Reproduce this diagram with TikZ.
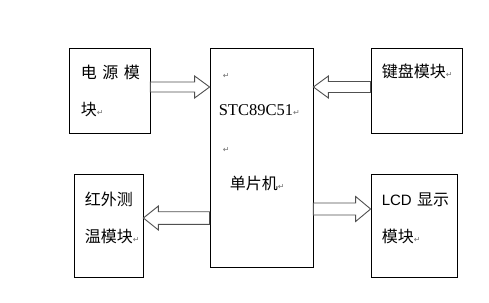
\documentclass[tikz,border=0pt]{standalone}
\usepackage{fontspec}
\setmainfont{Liberation Serif}
\newfontfamily\cjkfont{Noto Sans CJK SC}
\newfontfamily\lcdfont{Liberation Sans}
\newfontfamily\markfont{DejaVu Sans}
\usetikzlibrary{calc}
\definecolor{mkgray}{HTML}{707070}
\definecolor{arrgray}{HTML}{505050}
\newcommand{\pmark}{{\markfont\fontsize{8}{8}\selectfont\textcolor{mkgray}{↵}}}
% hollow block arrow: tail anchor, tip anchor, axis y, shaft half, head half
\newcommand{\fatarrow}[5]{%
  \path (#1|-0,#3) coordinate (fa-s) (#2|-0,#3) coordinate (fa-e)
        ($(fa-e)!15pt!(fa-s)$) coordinate (fa-h);
  \draw[fatline] ($(fa-s)+(0,#4)$) -- ($(fa-h)+(0,#4)$) -- ($(fa-h)+(0,#5)$)
     -- (fa-e) -- ($(fa-h)+(0,-#5)$) -- ($(fa-h)+(0,-#4)$)
     -- ($(fa-s)+(0,-#4)$) -- cycle;}

\begin{document}
\begin{tikzpicture}[x=1pt,y=-1pt,
  box/.style={rectangle, draw=black, line width=0.8pt, inner sep=0pt},
  lbl/.style={inner sep=0pt, anchor=base west, align=left, text width=90pt,
              font=\cjkfont\fontsize{16}{37}\selectfont},
  fatline/.style={draw=arrgray, line width=0.9pt, line join=miter, fill=white}]
\useasboundingbox (0,0) rectangle (489,302);

\node[box, minimum width=81pt, minimum height=85pt]  (pwr) at (109.5,90.5) {};
\node[box, minimum width=103pt, minimum height=219pt] (mcu) at (261.5,157.5) {};
\node[box, minimum width=91pt, minimum height=85pt]  (key) at (416.5,90.5) {};
\node[box, minimum width=69pt, minimum height=103pt] (ir)  at (108.5,225.5) {};
\node[box, minimum width=86pt, minimum height=103pt] (lcd) at (414,225.5) {};

\node[lbl] (pwrtxt) at ($(pwr.north west)+(12,31)$)
  {电\hspace{5.5pt}源\hspace{5.5pt}模\\块\pmark};
\node[lbl] (mcutxt) at ($(mcu.north west)+(9,31)$)
  {\hspace*{4pt}\pmark\\
   {\rmfamily\fontsize{16.5}{37}\selectfont STC89C51}\pmark\\
   \hspace*{4pt}\pmark\\
   \hspace*{11pt}单片机\pmark};
\node[lbl] (keytxt) at ($(key.north west)+(11,30)$) {键盘模块\pmark};
\node[lbl] (irtxt)  at ($(ir.north west)+(11,32)$) {红外测\\温模块\pmark};
\node[lbl] (lcdtxt) at ($(lcd.north west)+(11,32)$)
  {{\lcdfont\fontsize{15}{37}\selectfont LCD} 显示\\模块\pmark};

\fatarrow{pwr.east}{mcu.west}{87}{5}{11}
\fatarrow{key.west}{mcu.east}{87}{5.5}{11}
\fatarrow{mcu.west}{ir.east}{218}{6.3}{12}
\fatarrow{mcu.east}{lcd.west}{209}{6}{12.5}
\end{tikzpicture}
\end{document}
